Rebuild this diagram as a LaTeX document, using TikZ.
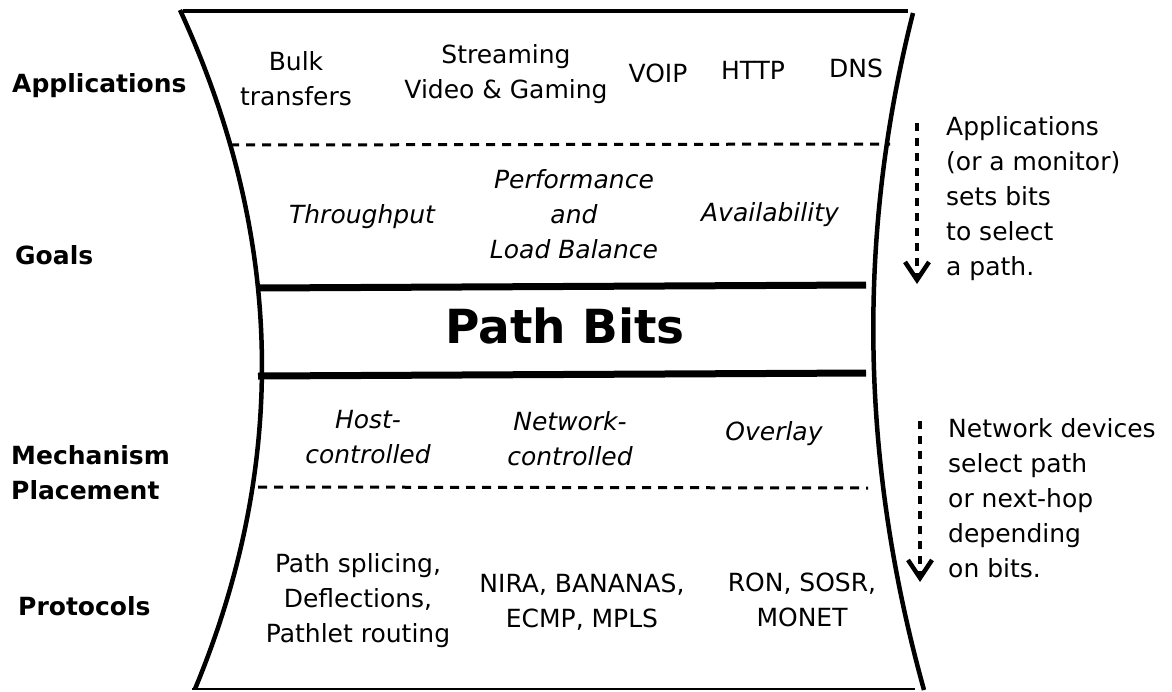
\documentclass[tikz,border=0pt]{standalone}
\usepackage{fontspec}
\setmainfont{DejaVu Sans}
\usetikzlibrary{arrows.meta}

\begin{document}
\begin{tikzpicture}[x=1pt,y=-1pt,
  lbl/.style={font=\fontsize{25}{35}\selectfont, inner sep=0pt, align=center},
  itl/.style={inner sep=0pt, align=center, font=\fontsize{25}{35}\selectfont\itshape},
  side/.style={font=\fontsize{25}{35}\selectfont\bfseries, inner sep=0pt, anchor=west, align=left},
  note/.style={font=\fontsize{25}{35}\selectfont, inner sep=0pt, align=left, anchor=north west},
  wall/.style={line width=4.5pt},
  rim/.style={line width=4pt},
  floor/.style={line width=2.5pt},
  sep/.style={line width=3pt, dash pattern=on 9pt off 7pt},
  bar/.style={line width=7pt},
  flow/.style={line width=4.5pt, dash pattern=on 8pt off 7pt,
    -{Straight Barb[length=18pt,width=24pt]}}
]
\useasboundingbox (0,0) rectangle (1172,691);

% outline of the hourglass-shaped stack
\coordinate (tl) at (180,10);
\coordinate (tr) at (913,13);
\coordinate (bl) at (195,689);
\coordinate (br) at (924,690);
\coordinate (rimL) at (183,11);
\coordinate (rimR) at (908,11);
\coordinate (floorL) at (192,689);
\coordinate (floorR) at (915,689);
\draw[rim] (rimL) -- (rimR);
\draw[floor] (floorL) -- (floorR);
\draw[wall] (tl) .. controls (284,236) and (289,462) .. (bl);
\draw[wall] (tr) .. controls (856,238) and (861,464) .. (br);

% layer separators
\coordinate (s1a) at (230,145); \coordinate (s1b) at (890,144);
\coordinate (b1a) at (258,288); \coordinate (b1b) at (866,285);
\coordinate (b2a) at (258,376); \coordinate (b2b) at (866,373);
\coordinate (s2a) at (258,487); \coordinate (s2b) at (868,488);
\draw[sep] (s1a) -- (s1b);
\draw[bar] (b1a) -- (b1b);
\draw[bar] (b2a) -- (b2b);
\draw[sep] (s2a) -- (s2b);

% layer names
\node[side] (lApp) at (12,86) {Applications};
\node[side] (lGoal) at (15,255) {Goals};
\node[side] (lMech) at (11,473) {Mechanism\\Placement};
\node[side] (lProt) at (18,606) {Protocols};

% applications
\node[lbl] (bulk) at (296,79) {Bulk\\transfers};
\node[lbl] (stream) at (506,74) {Streaming\\Video \& Gaming};
\node[lbl] (voip) at (658,73) {VOIP};
\node[lbl] (http) at (753,70) {HTTP};
\node[lbl] (dns) at (856,68) {DNS};

% goals
\node[itl] (thr) at (362,217) {Throughput};
\node[itl] (perf) at (574,214) {Performance\\and\\Load Balance};
\node[itl] (avail) at (770,215) {Availability};

% waist
\node[inner sep=0pt, font=\fontsize{47}{50}\selectfont\bfseries] (bits) at (565,326) {Path Bits};

% mechanism placement
\node[itl] (host) at (368,437) {Host-\\controlled};
\node[itl] (netc) at (570,439) {Network-\\controlled};
\node[itl] (ovl) at (774,434) {Overlay};

% protocols
\node[lbl] (p1) at (358,601) {Path splicing,\\Deflections,\\Pathlet routing};
\node[lbl] (p2) at (582,602) {NIRA, BANANAS,\\ECMP, MPLS};
\node[lbl] (p3) at (802,600) {RON, SOSR,\\MONET};

% side notes with direction arrows
\coordinate (a1s) at (917,123); \coordinate (a1e) at (917,284);
\coordinate (a2s) at (920,421); \coordinate (a2e) at (920,582);
\draw[flow] (a1s) -- (a1e);
\draw[flow] (a2s) -- (a2e);
\node[note] (n1) at (946,116) {Applications\\(or a monitor)\\sets bits\\to select\\a path.};
\node[note] (n2) at (948,418) {Network devices\\select path\\or next-hop\\depending\\on bits.};
\end{tikzpicture}
\end{document}
